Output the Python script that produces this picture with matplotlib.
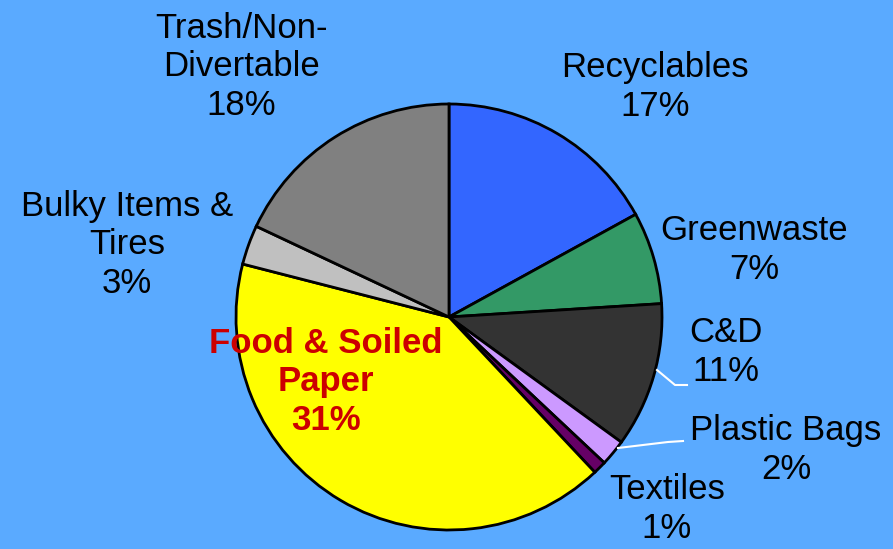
import matplotlib
matplotlib.use("Agg")
import matplotlib.pyplot as plt

plt.rcParams['font.family'] = ['Liberation Sans', 'DejaVu Sans']

# data (slice sizes as drawn; label text as printed on the chart)
categories = ["Recyclables", "Greenwaste", "C&D", "Plastic Bags", "Textiles",
              "Food & Soiled Paper", "Bulky Items & Tires", "Trash/Non-Divertable"]
values = [17, 7, 11, 2, 1, 41, 3, 18]
label_texts = ["Recyclables\n17%", "Greenwaste\n7%", "C&D\n11%", "Plastic Bags\n2%",
               "Textiles\n1%", "Food & Soiled\nPaper\n31%", "Bulky Items &\nTires\n3%",
               "Trash/Non-\nDivertable\n18%"]
colors = ["#3366FF", "#339966", "#333333", "#CC99FF", "#660066",
          "#FFFF00", "#C0C0C0", "#808080"]

W, H = 893, 549
BG = "#5AAAFF"

fig = plt.figure(figsize=(W / 100, H / 100), dpi=100)
fig.patch.set_facecolor(BG)
ax = fig.add_axes([0, 0, 1, 1])
ax.set_facecolor(BG)

def py(y):
    # pixel row (from top) -> data y
    return H - y

ax.pie(values, colors=colors, startangle=90, counterclock=False,
       center=(449, py(317)), radius=213,
       wedgeprops=dict(edgecolor="black", linewidth=2.0))
ax.set_xlim(0, W)
ax.set_ylim(0, H)
ax.set_aspect("equal")
ax.axis("off")

# label positions (pixel centres of each text block)
label_pos = [(655, 87), (754, 250), (726, 352), (786, 450), (667, 509),
             (326, 382), (127, 245), (241, 67)]
for i, (txt, (x, y)) in enumerate(zip(label_texts, label_pos)):
    food = categories[i].startswith("Food")
    ax.text(x, py(y), txt, ha="center", va="center", fontsize=25,
            linespacing=1.2, color="#CC0000" if food else "black",
            fontweight="bold" if food else "normal")

# white leader lines
ax.plot([657, 675, 687], [py(370), py(385), py(385)], color="white", lw=1.5)
ax.plot([618, 668, 683], [py(448), py(442), py(441)], color="white", lw=1.5)

fig.savefig("out.png", dpi=100, facecolor=BG)
